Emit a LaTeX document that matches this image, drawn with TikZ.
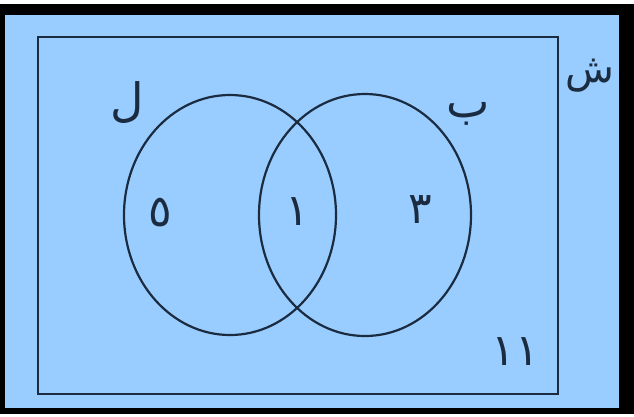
\documentclass[tikz,border=0pt]{standalone}
\usepackage{fontspec}
\newfontfamily\arabicfont[Script=Arabic]{DejaVu Sans}
\TeXXeTstate=1
\definecolor{bgblue}{HTML}{99CCFF}
\definecolor{ink}{HTML}{1B2B40}
\begin{document}
\begin{tikzpicture}[x=1pt,y=-1pt,
  lbl/.style={font=\arabicfont\fontsize{46}{52}\selectfont, text=ink, inner sep=0pt},
  num/.style={font=\arabicfont\fontsize{44}{50}\selectfont, text=ink, inner sep=0pt},
  setline/.style={draw=ink, line width=2.2pt}]
\useasboundingbox (0,0) rectangle (634,416);
\fill[white] (0,0) rectangle (634,416);
\fill[black] (0,4) rectangle (634,414);
\fill[bgblue] (5,15) rectangle (619,408);
\draw[setline] (38,37) rectangle (558,394);
\draw[setline] (230,215) ellipse [x radius=106, y radius=120];
\draw[setline] (365,215) ellipse [x radius=106, y radius=121];
\node[lbl] (L) at (127,103) {\beginR ل\endR};
\node[lbl] (B) at (468,114) {\beginR ب\endR};
\node[lbl, font=\arabicfont\fontsize{40}{46}\selectfont] (S) at (590,76) {\beginR ش\endR};
\node[num] (n5) at (160,213) {\beginR ٥\endR};
\node[num] (n1) at (297,212) {\beginR ١\endR};
\node[num] (n3) at (420,210) {\beginR ٣\endR};
\node[num] (n11) at (515,352) {\beginR ١١\endR};
\end{tikzpicture}
\end{document}
